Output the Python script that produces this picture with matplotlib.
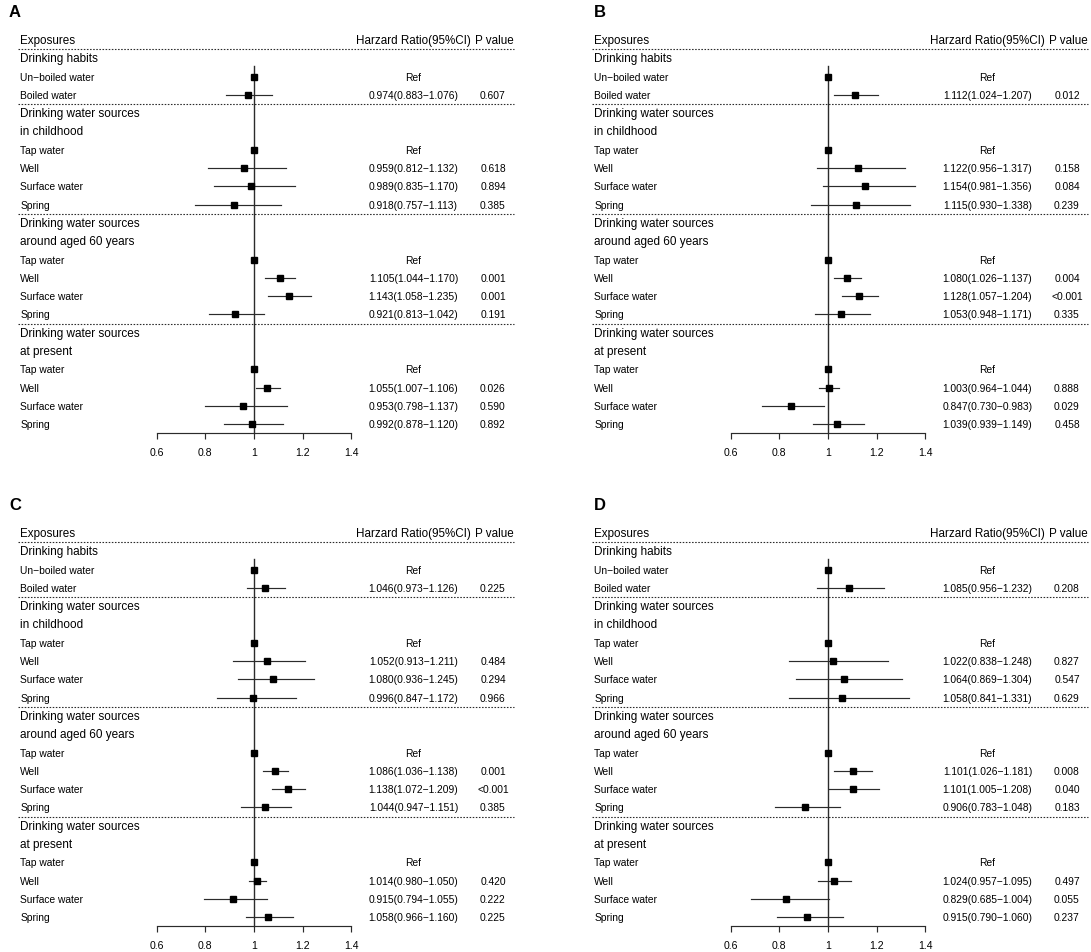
import matplotlib
matplotlib.use('Agg')
import matplotlib.pyplot as plt
from matplotlib.transforms import blended_transform_factory

plt.rcParams['font.family'] = ['Liberation Sans', 'DejaVu Sans']

# rows of each table (same for all panels)
groups = [['Drinking habits'],
          ['Drinking water sources', 'in childhood'],
          ['Drinking water sources', 'around aged 60 years'],
          ['Drinking water sources', 'at present']]
group_items = [['Un\u2212boiled water', 'Boiled water'],
               ['Tap water', 'Well', 'Surface water', 'Spring'],
               ['Tap water', 'Well', 'Surface water', 'Spring'],
               ['Tap water', 'Well', 'Surface water', 'Spring']]

# non-reference rows, in table order
hr_a = [0.974, 0.959, 0.989, 0.918, 1.105, 1.143, 0.921, 1.055, 0.953, 0.992]
lo_a = [0.883, 0.812, 0.835, 0.757, 1.044, 1.058, 0.813, 1.007, 0.798, 0.878]
hi_a = [1.076, 1.132, 1.170, 1.113, 1.170, 1.235, 1.042, 1.106, 1.137, 1.120]
p_a = ['0.607', '0.618', '0.894', '0.385', '0.001', '0.001', '0.191', '0.026', '0.590', '0.892']

hr_b = [1.112, 1.122, 1.154, 1.115, 1.080, 1.128, 1.053, 1.003, 0.847, 1.039]
lo_b = [1.024, 0.956, 0.981, 0.930, 1.026, 1.057, 0.948, 0.964, 0.730, 0.939]
hi_b = [1.207, 1.317, 1.356, 1.338, 1.137, 1.204, 1.171, 1.044, 0.983, 1.149]
p_b = ['0.012', '0.158', '0.084', '0.239', '0.004', '<0.001', '0.335', '0.888', '0.029', '0.458']

hr_c = [1.046, 1.052, 1.080, 0.996, 1.086, 1.138, 1.044, 1.014, 0.915, 1.058]
lo_c = [0.973, 0.913, 0.936, 0.847, 1.036, 1.072, 0.947, 0.980, 0.794, 0.966]
hi_c = [1.126, 1.211, 1.245, 1.172, 1.138, 1.209, 1.151, 1.050, 1.055, 1.160]
p_c = ['0.225', '0.484', '0.294', '0.966', '0.001', '<0.001', '0.385', '0.420', '0.222', '0.225']

hr_d = [1.085, 1.022, 1.064, 1.058, 1.101, 1.101, 0.906, 1.024, 0.829, 0.915]
lo_d = [0.956, 0.838, 0.869, 0.841, 1.026, 1.005, 0.783, 0.957, 0.685, 0.790]
hi_d = [1.232, 1.248, 1.304, 1.331, 1.181, 1.208, 1.048, 1.095, 1.004, 1.060]
p_d = ['0.208', '0.827', '0.547', '0.629', '0.008', '0.040', '0.183', '0.497', '0.055', '0.237']

panels = [('A', hr_a, lo_a, hi_a, p_a),
          ('B', hr_b, lo_b, hi_b, p_b),
          ('C', hr_c, lo_c, hi_c, p_c),
          ('D', hr_d, lo_d, hi_d, p_d)]
offsets = [(0, 0), (574, 0), (0, 493), (574, 493)]
letter_x = [9, 594, 9, 594]

ticks = [0.6, 0.8, 1.0, 1.2, 1.4]
tick_labels = ['0.6', '0.8', '1', '1.2', '1.4']

W, H = 1091, 953
fig = plt.figure(figsize=(W / 100, H / 100), dpi=100)

# panel frame in pixels (panel A), x=1 at 254 px, 243.3 px per unit
L, R, T, B = 18, 514, 30, 434.45
X1, SCALE = 254, 243.3
LINE = '#2b2b2b'


def fx(px):
    return (px - L) / (R - L)


for (letter, hr, lo, hi, pv), (dx, dy), lx in zip(panels, offsets, letter_x):
    ax = fig.add_axes([(L + dx) / W, 1 - (B + dy) / H, (R - L) / W, (B - T) / H])
    ax.set_xlim(1 + (L - X1) / SCALE, 1 + (R - X1) / SCALE)
    ax.set_ylim(21.5, -0.6)
    trans = blended_transform_factory(ax.transAxes, ax.transData)

    fig.text((lx) / W, 1 - (12.5 + dy) / H, letter, fontsize=12,
             fontweight='bold', va='center', ha='left')

    # header
    ax.text(fx(20.2), 0, 'Exposures', transform=trans, fontsize=8.4, va='center')
    ax.text(fx(413.5), 0, 'Harzard Ratio(95%CI)', transform=trans,
            fontsize=8.4, va='center', ha='center')
    ax.text(fx(494), 0, 'P value', transform=trans, fontsize=8.4,
            va='center', ha='center')
    ax.plot([0, 1], [0.5, 0.5], transform=trans, color=LINE, lw=0.8,
            ls=(0, (1.4, 1.4)), clip_on=False)

    row = 1
    k = 0
    for gi, (glines, items) in enumerate(zip(groups, group_items)):
        for g in glines:
            ax.text(fx(20.2), row, g, transform=trans, fontsize=8.5, va='center')
            row += 1
        for ii, name in enumerate(items):
            ax.text(fx(20.2), row, name, transform=trans, fontsize=7.4, va='center')
            if ii == 0:
                ax.plot(1.0, row, marker='s', ms=4.3, color='black', zorder=4)
                ax.text(fx(413.5), row, 'Ref', transform=trans, fontsize=7.4,
                        va='center', ha='center')
            else:
                ax.plot([lo[k], hi[k]], [row, row], color=LINE, lw=0.85, zorder=3)
                ax.plot(hr[k], row, marker='s', ms=4.3, color='black', zorder=4)
                ax.text(fx(413.5), row,
                        f'{hr[k]:.3f}({lo[k]:.3f}\u2212{hi[k]:.3f})',
                        transform=trans, fontsize=7.4, va='center', ha='center')
                ax.text(fx(493), row, pv[k], transform=trans, fontsize=7.4,
                        va='center', ha='center')
                k += 1
            row += 1
        if gi < len(groups) - 1:
            ax.plot([0, 1], [row - 0.5, row - 0.5], transform=trans, color=LINE,
                    lw=0.8, ls=(0, (1.4, 1.4)), clip_on=False)

    # reference line at HR = 1
    ax.plot([1, 1], [1.42, 21.5], color=LINE, lw=1.0, zorder=2, clip_on=False)

    for s in ['top', 'left', 'right']:
        ax.spines[s].set_visible(False)
    ax.spines['bottom'].set_bounds(0.6, 1.4)
    ax.spines['bottom'].set_linewidth(0.85)
    ax.spines['bottom'].set_color(LINE)
    ax.set_xticks(ticks)
    ax.set_xticklabels(tick_labels)
    ax.set_yticks([])
    ax.tick_params(axis='x', direction='out', length=4.3, width=0.85,
                   color=LINE, pad=5.5, labelsize=7.6)
    ax.patch.set_visible(False)

fig.savefig('out.png', dpi=100)
